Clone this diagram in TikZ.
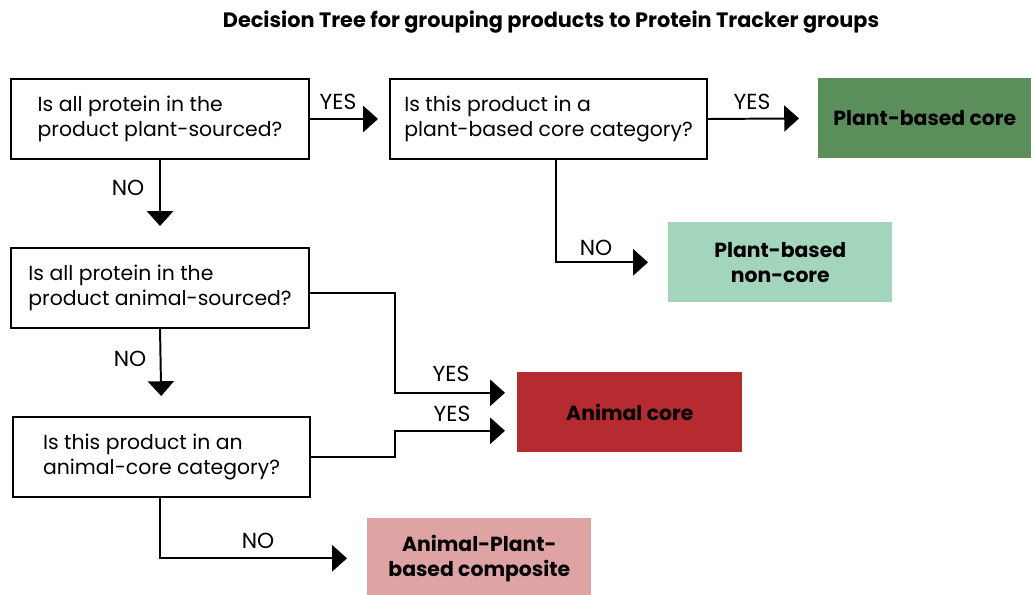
\documentclass[tikz,border=0pt]{standalone}
\usepackage{fontspec}
\setmainfont{Poppins}
\usetikzlibrary{arrows.meta,calc}
\definecolor{plantcore}{HTML}{5A8F5B}
\definecolor{plantnon}{HTML}{A3D4BC}
\definecolor{animalcore}{HTML}{B52B30}
\definecolor{composite}{HTML}{DFA3A3}
\tikzset{
qbox/.style={draw, line width=1.4pt, anchor=north west, minimum height=2cm, inner sep=0pt, align=left, font=\fontsize{14.5}{17.8}\selectfont},
tbox/.style={anchor=north west, minimum height=2cm, align=center, font=\fontsize{14.5}{17.8}\selectfont\bfseries},
arr/.style={line width=1.4pt, -{Triangle[length=10.5pt,width=18.5pt]}},
lab/.style={font=\fontsize{15.5}{17}\selectfont}
}

\begin{document}
\begin{tikzpicture}[x=0.025cm,y=-0.025cm]
\useasboundingbox (0,0) rectangle (1031,594);

\node [font=\fontsize{14.8}{17}\selectfont\bfseries] (title) at (551,22) {Decision Tree for grouping products to Protein Tracker groups};

\node [qbox, minimum width=7.45cm] (q1) at (10,78) {Is all protein in the\\product plant-sourced?};
\node [qbox, minimum width=7.925cm] (q2) at (389,78) {Is this product in a\\plant-based core category?};
\node [qbox, minimum width=7.45cm] (q3) at (10,247) {Is all protein in the\\product animal-sourced?};
\node [qbox, minimum width=7.425cm] (q4) at (12,416) {Is this product in an\\animal-core category?};

\node [tbox, fill=plantcore, minimum width=5.325cm] (pcore) at (818,78) {Plant-based core};
\node [tbox, fill=plantnon, minimum width=5.6cm] (pnon) at (668,222) {Plant-based\\non-core};
\node [tbox, fill=animalcore, minimum width=5.625cm] (acore) at (517,372) {Animal core};
\node [tbox, fill=composite, minimum width=5.6cm] (comp) at (367,518) {Animal-Plant-\\based composite};

\draw [arr, shorten >=0.275cm] (q1.east) -- (q2.west);
\draw [arr, shorten >=0.475cm] (q2.east) -- (pcore.west);
\draw [arr, shorten >=0.525cm] (q1.south) -- (q3.north);
\draw [arr, shorten >=0.5cm] ([xshift=0.175cm]q2.south) |- (pnon.west);
\draw [arr, shorten >=0.5cm] (q3.south) -- (q4.north);
\draw [arr, shorten >=0.3cm] ($(q3.east)+(0,5)$) -- ++(85,0) |- ($(acore.west)+(0,-19.5)$);
\draw [arr, shorten >=0.3cm] (q4.east) -- ++(84,0) |- ($(acore.west)+(0,18.5)$);
\draw [arr, shorten >=0.5cm] ([xshift=-0.04cm]q4.south) |- (comp.west);

\node [lab] (yes1) at (338,102) {YES};
\node [lab] (yes2) at (752,102) {YES};
\node [lab] (no1) at (128,188) {NO};
\node [lab] (no2) at (596,248) {NO};
\node [lab] (no3) at (130,359) {NO};
\node [lab] (yes3) at (451,374) {YES};
\node [lab] (yes4) at (452,414) {YES};
\node [lab] (no4) at (258,541) {NO};
\end{tikzpicture}
\end{document}
